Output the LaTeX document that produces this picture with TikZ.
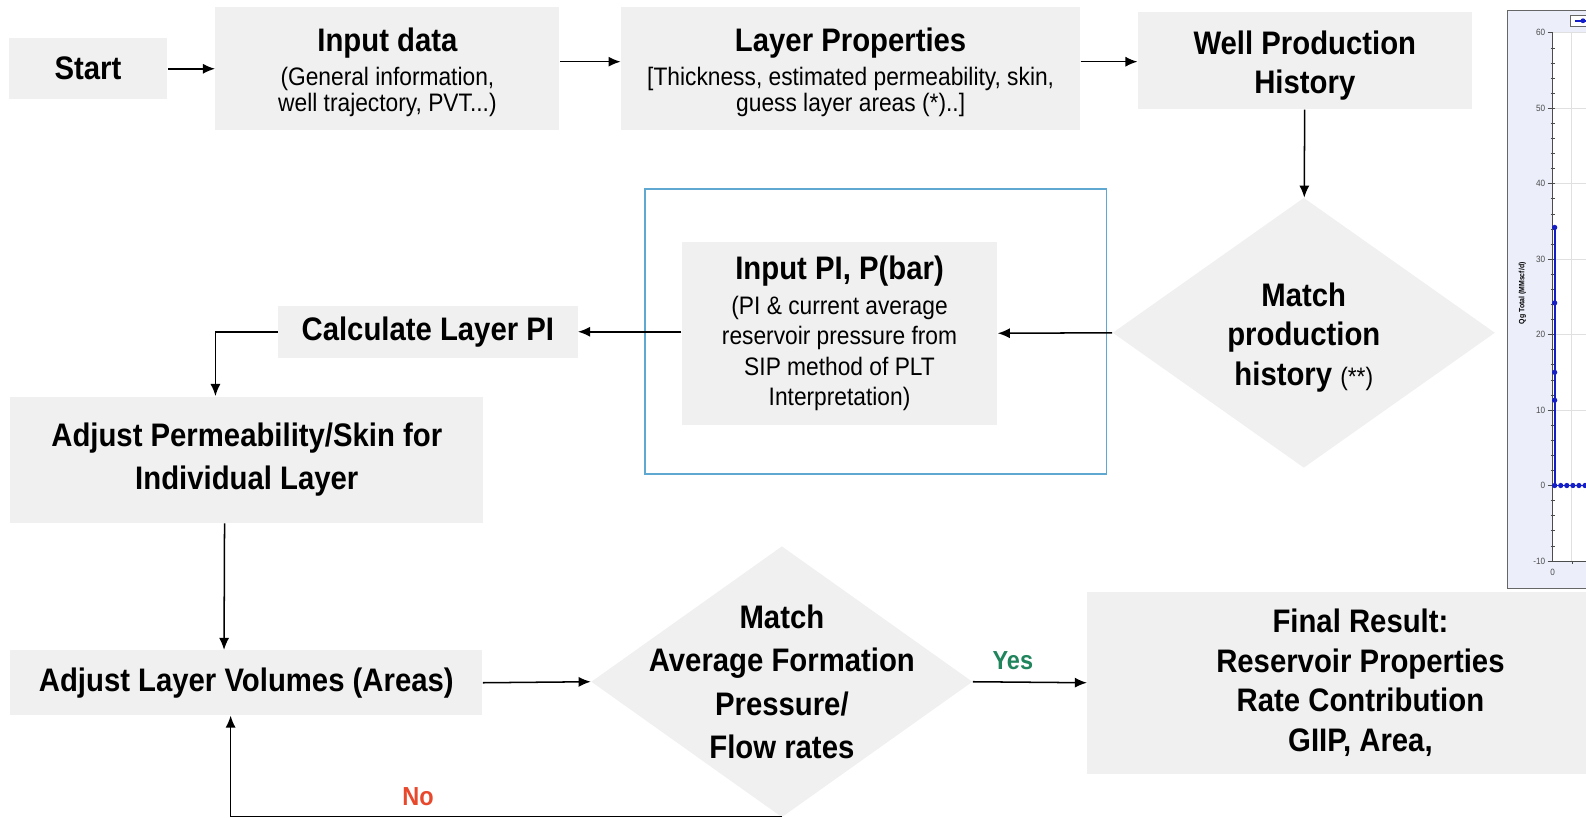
\documentclass[tikz,border=0pt]{standalone}
\usepackage{fontspec}
\setmainfont[FakeStretch=0.9]{Liberation Sans}
\usetikzlibrary{arrows.meta,shapes.geometric}

\definecolor{boxgray}{RGB}{240,240,240}
\definecolor{framebl}{RGB}{95,168,210}
\definecolor{yesgreen}{RGB}{32,132,92}
\definecolor{nored}{RGB}{232,72,44}
\definecolor{chartbg}{RGB}{236,238,250}
\definecolor{chartln}{RGB}{20,30,200}

\newcommand{\headfont}{\bfseries\fontsize{16.1}{19.5}\selectfont}
\newcommand{\plainfont}{\mdseries\fontsize{12.5}{15}\selectfont}

\begin{document}
\begin{tikzpicture}[x=0.5pt,y=-0.5pt,
  >={Latex[length=6pt,width=5pt]},
  every node/.style={align=center,inner sep=0pt},
  process/.style={fill=boxgray,font=\headfont},
  detail/.style={process,font=\plainfont},
  decision/.style={diamond,fill=boxgray,aspect=1.4},
  frame/.style={draw=framebl,line width=0.9pt},
  flow/.style={->,line width=0.75pt},
  answer/.style={font=\bfseries\fontsize{12.9}{14}\selectfont,inner sep=2pt},
  tick/.style={font=\fontsize{4.5}{5}\selectfont,text=black!70}]
  \useasboundingbox (0,0) rectangle (1568,808);

  % top row
  \node[process,minimum width=78.5pt,minimum height=30pt] (start) at (87,68) {Start};
  \node[detail,minimum width=170pt,minimum height=61pt] (input) at (383,68)
    {{\headfont\rule{0pt}{15pt}Input data}\\[2pt]
    (General information,\\[-2.5pt] well trajectory, PVT...)};
  \node[detail,minimum width=227pt,minimum height=61pt] (layer) at (841,68)
    {{\headfont\rule{0pt}{15pt}Layer Properties}\\[2pt]
    {[}Thickness, estimated permeability, skin,\\[-2.5pt] guess layer areas (*)..]};
  \node[process,minimum width=165pt,minimum height=48pt] (well) at (1290,60)
    {\rule{0pt}{16.3pt}Well Production\\History};

  % middle row
  \node[decision,minimum width=189pt,minimum height=133.5pt,font=\headfont] (match1) at (1289,329)
    {\rule{0pt}{16.3pt}Match\\production\\history {\plainfont (**)}};
  \node[frame,minimum width=228pt,minimum height=141pt] (piframe) at (866,328) {};
  \node[detail,minimum width=156pt,minimum height=90.5pt] (inputpi) at (830,329.5)
    {{\headfont Input PI, P(bar)}\\[2.5pt]
    (PI \& current average\\ reservoir pressure from\\ SIP method of PLT\\ Interpretation)};
  \node[process,minimum width=148pt,minimum height=25.5pt] (calc) at (423,328) {Calculate Layer PI};
  \node[process,minimum width=234pt,minimum height=62.5pt] (adjperm) at (244,454.5)
    {Adjust Permeability/Skin for\\[2pt]Individual Layer};

  % bottom row
  \node[process,minimum width=233.5pt,minimum height=32pt] (adjvol) at (243.5,675)
    {Adjust Layer Volumes (Areas)};
  \node[decision,minimum width=188.5pt,minimum height=134pt] (match2) at (773,674) {};
  \node[font=\headfont] (match2txt) at (match2)
    {Match\\[2pt]Average Formation\\[2pt]Pressure/\\[2pt]Flow rates};
  \node[process,minimum width=270pt,minimum height=90pt] (final) at (1345,675)
    {Final Result:\\Reservoir Properties\\Rate Contribution\\GIIP, Area,};

  \draw[flow] (start.east) -- (start.east -| input.west);
  \draw[flow] ([yshift=3.5pt]input.east) -- ([yshift=3.5pt]input.east -| layer.west);
  \draw[flow] ([yshift=3.5pt]layer.east) -- ([yshift=3.5pt]layer.east -| well.west);
  \draw[flow] (well) -- (match1);
  \draw[flow] (match1.west) -- (inputpi.east);
  \draw[flow] (inputpi.west |- calc.east) -- (calc.east);
  \draw[flow] (calc.west) -| ([xshift=-15.5pt]adjperm.north);
  \draw[flow] ([xshift=-11pt]adjperm.south) -- ([xshift=-11pt]adjvol.north);
  \draw[flow] (adjvol.east) -- (match2.west);
  \draw[flow] (match2.east) -- node[answer,text=yesgreen,above=3.5pt,pos=0.35]{Yes} (final.west);
  \draw[flow] ([yshift=0.5pt]match2.south) -| node[answer,text=nored,above=3pt,pos=0.33]{No}
    ([xshift=-7.75pt]adjvol.south);

  % production chart
  \fill[chartbg,draw=black!60] (1490,10) rectangle (1580,582);
  \fill[white] (1535,32.4) rectangle (1580,554.6);
  \draw[black!12] (1554,32.4) -- (1554,554.6);
  \foreach \v in {-10,0,...,60}{
    \draw[black!12] (1535,{480-7.46*\v}) -- (1580,{480-7.46*\v});
    \draw[black!70,line width=0.3pt] (1530,{480-7.46*\v}) -- (1535,{480-7.46*\v});
    \node[tick,anchor=east] (ylab\v) at (1528,{480-7.46*\v}) {\v};
  }
  \foreach \v in {-8,-6,...,58}
    \draw[black!70,line width=0.3pt] (1533,{480-7.46*\v}) -- (1537,{480-7.46*\v});
  \draw[black!70,line width=0.4pt] (1535,32.4) -- (1535,554.6) -- (1580,554.6);
  \draw[black!70,line width=0.3pt] (1554,554.6) -- (1554,558);
  \node[tick] (xlab0) at (1535,566) {0};
  \node[rotate=90,font=\bfseries\fontsize{3.8}{4}\selectfont] (ytitle) at (1505,290)
    {Qg Total (MMscf/d)};
  \draw[black!60,fill=white] (1553,15) rectangle (1580,26);
  \draw[chartln,line width=0.8pt] (1557,20.5) -- (1574,20.5);
  \fill[chartln] (1565,20.5) circle (1.2pt);
  \draw[chartln,line width=0.9pt] (1537,{480-7.46*34.2}) -- (1537,480) -- (1580,480);
  \foreach \v in {34.2,24.2,15,11.3}
    \fill[chartln] (1537,{480-7.46*\v}) circle (1.3pt);
  \foreach \x in {1537,1543,...,1579}
    \fill[chartln] (\x,480) circle (1.3pt);
\end{tikzpicture}
\end{document}
